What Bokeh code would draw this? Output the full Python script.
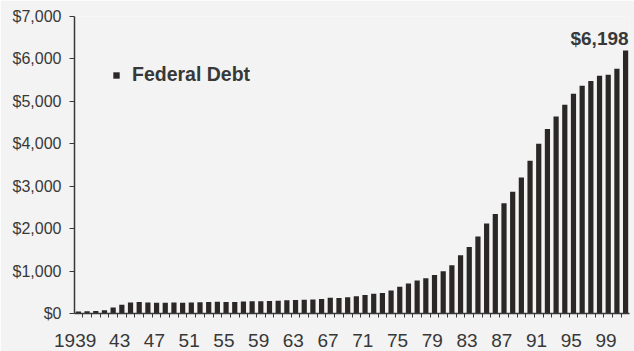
from bokeh.plotting import figure
from bokeh.models import (ColumnDataSource, Range1d, FixedTicker, NumeralTickFormatter,
                          Legend, LegendItem, Label)
from bokeh.embed import file_html
from bokeh.resources import INLINE

# Federal debt, billions of dollars, fiscal years 1939-2002
years = list(range(1939, 2003))
debt = [48, 51, 58, 79, 143, 204, 260, 271, 257, 252,
        253, 257, 255, 259, 266, 271, 274, 273, 272, 280,
        288, 291, 293, 303, 310, 316, 322, 329, 340, 369,
        366, 381, 408, 436, 466, 484, 542, 629, 706, 777,
        830, 909, 995, 1137, 1372, 1565, 1817, 2121, 2346, 2601,
        2868, 3206, 3598, 4002, 4351, 4643, 4921, 5182, 5369, 5478,
        5606, 5629, 5770, 6198]

tick_years = [1939, 1943, 1947, 1951, 1955, 1959, 1963, 1967, 1971, 1975,
              1979, 1983, 1987, 1991, 1995, 1999]
tick_labels = ["1939", "43", "47", "51", "55", "59", "63", "67", "71", "75",
               "79", "83", "87", "91", "95", "99"]
y_ticks = [0, 1000, 2000, 3000, 4000, 5000, 6000, 7000]
series_name = "Federal Debt"

BG = "#f3f3f3"
INK = "#2b2727"
TXT = "#383838"
FONT = "Liberation Sans"

src = ColumnDataSource(dict(year=years, debt=debt))

p = figure(width=634, height=351, output_backend="svg", toolbar_location=None,
           x_range=Range1d(1938.55, 2002.45), y_range=Range1d(0, 7000),
           min_border_left=74, min_border_right=5, min_border_top=16, min_border_bottom=38,
           background_fill_color=BG, border_fill_color=BG, outline_line_color=None)

r = p.vbar(x="year", top="debt", width=0.6, source=src, fill_color=INK, line_color=None)

p.xgrid.visible = False
p.ygrid.visible = False

# x axis: labels placed slightly right of the bar, tick marks at year boundaries
label_pos = [tick_years[0] - 0.375] + [y + 0.75 for y in tick_years[1:]]
minor = [y - 0.5 for y in years] + [years[-1] + 0.5]
xa = p.xaxis[0]
xa.ticker = FixedTicker(ticks=label_pos, minor_ticks=minor)
xa.major_label_overrides = {pos: lab for pos, lab in zip(label_pos, tick_labels)}
xa.major_tick_line_color = None
xa.minor_tick_out = 4
xa.minor_tick_in = 0
xa.minor_tick_line_color = TXT
xa.axis_line_color = TXT
xa.axis_line_width = 1.5
xa.major_label_text_font = FONT
xa.major_label_text_font_size = "19px"
xa.major_label_text_color = TXT
xa.major_label_standoff = 14

ya = p.yaxis[0]
ya.ticker = FixedTicker(ticks=y_ticks)
ya.formatter = NumeralTickFormatter(format="$0,0")
ya.major_tick_out = 5
ya.major_tick_in = 0
ya.minor_tick_line_color = None
ya.major_tick_line_color = TXT
ya.axis_line_color = TXT
ya.axis_line_width = 1.5
ya.major_label_text_font = FONT
ya.major_label_text_font_size = "16px"
ya.major_label_text_color = TXT
ya.major_label_standoff = 8

legend = Legend(items=[LegendItem(label=series_name, renderers=[r])],
                location=(38, 227), glyph_width=8, glyph_height=8, label_standoff=12,
                label_text_font=FONT, label_text_font_style="bold",
                label_text_font_size="19.5px", label_text_color=TXT, label_height=20,
                padding=0, margin=0, spacing=0, border_line_color=None,
                background_fill_alpha=0)
p.add_layout(legend)

last = Label(x=years[-1], y=debt[-1], text="${:,.0f}".format(debt[-1]),
             text_align="right", text_baseline="alphabetic", x_offset=3, y_offset=12,
             text_font=FONT, text_font_style="bold", text_font_size="19px",
             text_color=TXT)
p.add_layout(last)

open("out.html", "w").write(file_html(p, INLINE))
